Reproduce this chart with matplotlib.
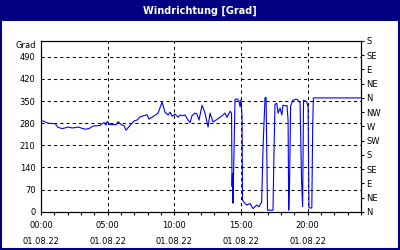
import matplotlib
matplotlib.use("Agg")
import matplotlib.pyplot as plt
from matplotlib.patches import Rectangle

# wind direction readings, hours since 00:00 on 01.08.22
hours = [0.05, 0.22, 0.53, 0.83, 1.05, 1.28, 1.58, 1.8, 2.03, 2.33, 2.55, 2.78,
         3.08, 3.3, 3.6, 3.9, 4.2, 4.43, 4.58, 4.73, 4.88, 4.95, 5.18, 5.4,
         5.63, 5.78, 6.0, 6.23, 6.38, 6.68, 6.98, 7.2, 7.43, 7.65, 7.95, 8.1,
         8.33, 8.55, 8.78, 9.08, 9.3, 9.53, 9.68, 9.83, 10.05, 10.28, 10.43,
         10.65, 10.8, 11.03, 11.18, 11.33, 11.55, 11.7, 11.85, 12.08, 12.3,
         12.53, 12.68, 12.9, 13.13, 13.43, 13.65, 13.8, 13.95, 14.18, 14.29,
         14.33, 14.36, 14.4, 14.48, 14.55, 14.7, 14.85, 14.93, 15.0, 15.08,
         15.11, 15.23, 15.43, 15.68, 15.9, 16.18, 16.35, 16.55, 16.65, 16.8,
         16.88, 16.99, 17.4, 17.48, 17.55, 17.68, 17.78, 17.93, 18.06, 18.15,
         18.3, 18.45, 18.53, 18.58, 18.64, 18.72, 18.9, 19.18, 19.43, 19.54,
         19.62, 19.69, 19.93, 20.03, 20.1, 20.31, 20.38, 20.43, 24.0]
grad = [288, 286, 280, 279, 279, 267, 263, 265, 268, 265, 266, 268,
        264, 261, 263, 271, 272, 273, 278, 282, 274, 285, 275, 276,
        275, 285, 276, 272, 258, 273, 287, 290, 300, 303, 307, 293,
        299, 305, 312, 347, 315, 306, 315, 302, 309, 299, 306,
        304, 306, 290, 282, 304, 312, 309, 290, 337, 312,
        268, 312, 284, 290, 299, 306, 312, 299, 318, 312,
        80, 120, 27, 200, 355, 357, 350, 332, 355, 300,
        37, 30, 21, 26, 10, 21, 16, 31, 200, 360,
        362, 5, 5, 200, 340, 343, 312, 328, 306, 337,
        335, 336, 290, 5, 90, 334, 353, 356, 345, 100,
        16, 353, 348, 332, 12, 12, 280, 360, 360]

left_ticks = [0, 70, 140, 210, 280, 350, 420, 490]
right_ticks = list(range(0, 541, 45))
right_labels = ["N", "NE", "E", "SE", "S", "SW", "W", "NW",
                "N", "NE", "E", "SE", "S"]
x_ticks = [0, 5, 10, 15, 20]
x_labels = ["00:00\n01.08.22", "05:00\n01.08.22", "10:00\n01.08.22",
            "15:00\n01.08.22", "20:00\n01.08.22"]

navy = "#000080"
fs = 6

fig = plt.figure(figsize=(4, 2.5), dpi=100)
fig.patch.set_facecolor("white")
# frame and title bar
fig.patches.append(Rectangle((0, 0.916), 1, 0.084, transform=fig.transFigure,
                             facecolor=navy, edgecolor="none", zorder=0))
fig.patches.append(Rectangle((0.0025, 0.004), 0.995, 0.992, transform=fig.transFigure,
                             facecolor="none", edgecolor=navy, linewidth=1.5, zorder=1))
fig.text(0.5, 0.958, "Windrichtung [Grad]", color="white", fontsize=7,
         fontweight="bold", ha="center", va="center")

ax = fig.add_axes([0.1025, 0.153, 0.8, 0.683])
ax.plot(hours, grad, color="#0000ff", linewidth=0.8, zorder=3)
ax.set_xlim(0, 24)
ax.set_ylim(0, 540)

ax.set_xticks(x_ticks)
ax.set_xticklabels(x_labels, fontsize=fs, linespacing=2.0)
ax.set_xticks(range(0, 25), minor=True)
ax.tick_params(axis="x", which="both", direction="out", length=2.5, width=0.8, pad=4)
ax.set_yticks(left_ticks)
ax.set_yticklabels([str(v) for v in left_ticks], fontsize=fs)
ax.tick_params(axis="y", length=0, pad=4)

for v in left_ticks[1:]:
    ax.axhline(v, color="black", linewidth=0.75, dashes=(3, 3), zorder=1)
for v in x_ticks[1:]:
    ax.axvline(v, color="black", linewidth=0.75, dashes=(3, 3), zorder=1)

for s in ax.spines.values():
    s.set_linewidth(0.8)

ax.text(-0.015, 1.0, "Grad", transform=ax.transAxes, fontsize=fs,
        ha="right", va="top")

ax2 = ax.twinx()
ax2.set_ylim(0, 540)
ax2.set_yticks(right_ticks)
ax2.set_yticklabels(right_labels, fontsize=fs)
ax2.tick_params(axis="y", direction="out", length=2.5, width=0.8, pad=1.5)

fig.savefig("out.png", dpi=100)
